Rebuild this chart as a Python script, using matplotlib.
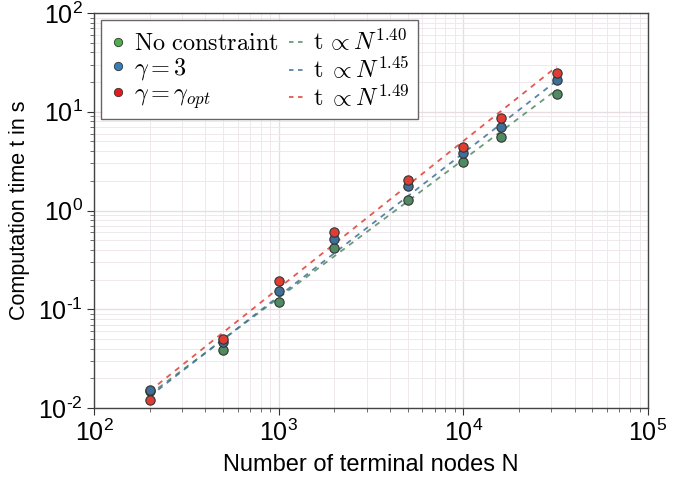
import numpy as np
import matplotlib
matplotlib.use("Agg")
import matplotlib.pyplot as plt
from matplotlib.ticker import LogLocator, FuncFormatter, NullFormatter
from matplotlib.lines import Line2D

plt.rcParams['font.family'] = ['Liberation Sans', 'DejaVu Sans']
plt.rcParams['mathtext.fontset'] = 'custom'
plt.rcParams['mathtext.rm'] = 'Liberation Sans'
plt.rcParams['mathtext.it'] = 'Liberation Sans:italic'
plt.rcParams['mathtext.bf'] = 'Liberation Sans:bold'

# Data
N = [200, 500, 1000, 2000, 5000, 10000, 16000, 32000]
t_noconstraint = [0.0148, 0.0386, 0.118, 0.42, 1.29, 3.07, 5.6, 15.3]
t_gamma3 = [0.0152, 0.0465, 0.152, 0.51, 1.79, 3.85, 7.05, 21.2]
t_gammaopt = [0.0121, 0.0497, 0.192, 0.60, 2.06, 4.35, 8.7, 24.9]

fit_exponents = [1.40, 1.45, 1.49]
fit_log10_prefactors = [-5.085, -5.219, -5.257]
fit_range = [200, 32000]

series_labels = [r'$\mathrm{No\ constraint}$', r'$\gamma = 3$', r'$\gamma = \gamma_{opt}$']
fit_labels = [r'$\mathrm{t}\,\propto N^{1.40}$', r'$\mathrm{t}\;\propto N^{1.45}$', r'$\mathrm{t}\;\propto N^{1.49}$']
point_colors = ['#508a62', '#3d6f99', '#e03c32']
legend_colors = ['#4daf4a', '#377eb8', '#e41a1c']

fig = plt.figure(figsize=(6.95, 4.8), dpi=100)
ax = fig.add_axes([94/695, 1 - 408/480, (648-94)/695, (408-13)/480])

series = [t_noconstraint, t_gamma3, t_gammaopt]
for i, c in enumerate(point_colors):
    xf = np.geomspace(fit_range[0], fit_range[1], 50)
    yf = 10 ** fit_log10_prefactors[i] * xf ** fit_exponents[i]
    ax.plot(xf, yf, '--', color=c, alpha=0.85, lw=1.3, dashes=(3, 3), zorder=2)
for i, (vals, c) in enumerate(zip(series, point_colors)):
    ax.scatter(N, vals, s=45, color=c, edgecolor='#333333', linewidth=0.8, zorder=3 + i)

ax.set_xscale('log')
ax.set_yscale('log')
ax.set_xlim(1e2, 1e5)
ax.set_ylim(1e-2, 1e2)

def fmt(v, pos):
    e = int(round(np.log10(v)))
    return '10$^{%d}$' % e if e >= 0 else r'10$^{\text{-}%d}$' % (-e)

for axis in (ax.xaxis, ax.yaxis):
    axis.set_major_locator(LogLocator(base=10, numticks=10))
    axis.set_minor_locator(LogLocator(base=10, subs=np.arange(2, 10), numticks=20))
    axis.set_major_formatter(FuncFormatter(fmt))
    axis.set_minor_formatter(NullFormatter())

ax.tick_params(which='major', direction='out', length=5, width=0.8, labelsize=18, colors='#333333',
               labelcolor='black', pad=3)
ax.tick_params(which='minor', direction='out', length=3, width=0.6, colors='#555555')
ax.grid(True, which='major', color='#e6dde2', lw=0.9)
ax.grid(True, which='minor', color='#efe8ec', lw=0.7)
ax.set_axisbelow(True)
for s in ax.spines.values():
    s.set_color('#444444')
    s.set_linewidth(1.0)

ax.set_xlabel('Number of terminal nodes N', fontsize=17, labelpad=6)
ax.set_ylabel('Computation time t in s', fontsize=15.5, labelpad=6)

handles = []
labels = []
for i in range(3):
    handles.append(Line2D([], [], marker='o', ls='none', markersize=6, markerfacecolor=legend_colors[i],
                          markeredgecolor='#333333', markeredgewidth=0.6))
    labels.append(series_labels[i])
for i in range(3):
    handles.append(Line2D([], [], ls='--', color=point_colors[i], alpha=0.85, lw=1.3, dashes=(2.5, 2.5)))
    labels.append(fit_labels[i])

leg = ax.legend(handles, labels, ncol=2, loc='upper left', fontsize=17.5, frameon=True, fancybox=False,
                borderpad=0.35, handlelength=0.7, handletextpad=0.3, columnspacing=0.4, labelspacing=0.05,
                bbox_to_anchor=(0.0, 1.0), borderaxespad=0.3)
leg.get_frame().set_edgecolor('#666666')
leg.get_frame().set_linewidth(1.0)
leg.get_frame().set_alpha(1.0)
for txt in leg.get_texts():
    txt.set_math_fontfamily('cm')

fig.savefig('out.png', dpi=100)
